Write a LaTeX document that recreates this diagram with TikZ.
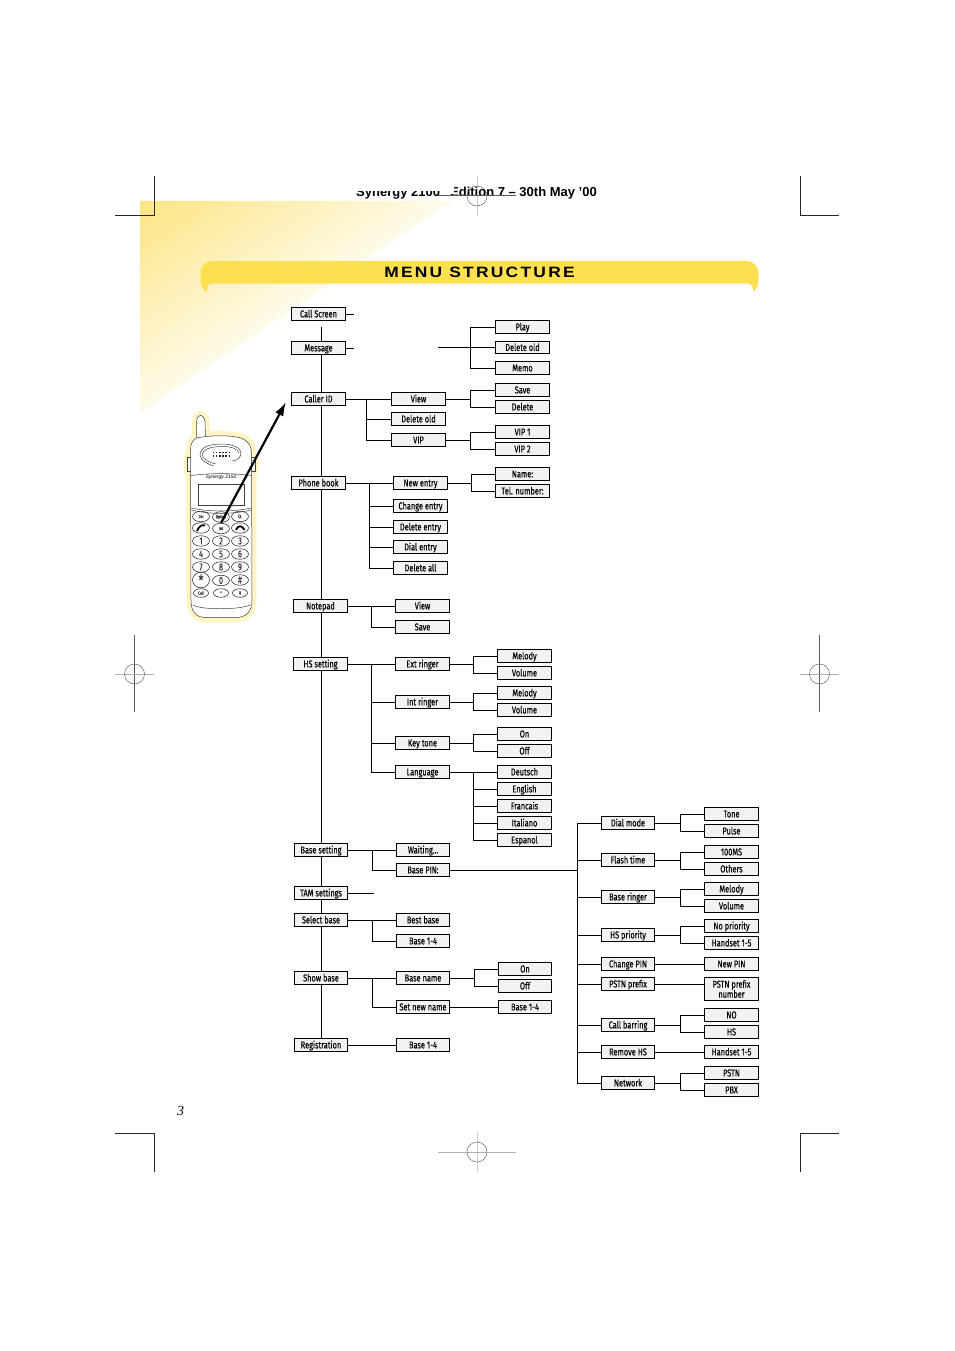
\documentclass[tikz,border=0pt]{standalone}
\usepackage{fontspec}
\usetikzlibrary{arrows.meta}
\usetikzlibrary{shapes.geometric}
\newfontfamily\menufont[FakeStretch=0.74,FakeBold=0.25]{Fira Sans}
\newfontfamily\headfont{Liberation Sans}
\newfontfamily\pagefont{Liberation Serif}
\newfontfamily\bannerfont[LetterSpace=15,FakeStretch=1.16]{Liberation Sans}
\definecolor{bannerfill}{HTML}{FDE04F}
\definecolor{wedgefill}{HTML}{FCE688}
\definecolor{halofill}{HTML}{FFF4C4}
\definecolor{boxfill}{HTML}{F2F2F2}
\pgfdeclarehorizontalshading{wedgeshade}{100bp}{color(0bp)=(wedgefill); color(17bp)=(wedgefill); color(57bp)=(white); color(100bp)=(white)}
\tikzset{
    menubox/.style={rectangle, draw, fill=boxfill, line width=.9pt, minimum width=53.5pt,
    	minimum height=12.8pt, inner sep=0pt, text height=8pt, text depth=1.2pt,
    	font=\menufont\fontsize{10}{10}\selectfont, align=center}
}
\tikzset{
    link/.style={line width=.9pt}
}
\tikzset{
	cropmark/.style={line width=.9pt, black!85},
	targetline/.style={line width=.9pt, black!30},
	phoneline/.style={line width=.5pt, black!75},
	phonekey/.style={ellipse, draw, line width=.6pt, black!80, minimum width=17pt, minimum height=10.5pt, inner sep=0pt, font=\menufont\fontsize{10}{10}\selectfont},
	phonesmall/.style={font=\menufont\fontsize{4.5}{4.5}\selectfont}
}
\pgfdeclarelayer{background}
\pgfsetlayers{background,main}

\begin{document}
\begin{tikzpicture}[x=1pt, y=-1pt]
	\useasboundingbox (0, 0) rectangle (954, 1351);

	% yellow wedge and banner
	\shade[shading=wedgeshade, shading angle=-55.7] (140, 201) -- (452, 201) -- (140, 413) -- cycle;
	\fill[bannerfill] (213, 261) -- (746, 261) .. controls (754, 261) and (758.5, 266) .. (758.5, 274)
		-- (758.5, 280) .. controls (758.5, 285) and (756, 289) .. (753.5, 292)
		.. controls (753, 287) and (752, 283.5) .. (747, 283.5) -- (212, 283.5)
		.. controls (208, 283.5) and (207, 287) .. (206.5, 292)
		.. controls (203, 289) and (200.5, 285) .. (200.5, 280) -- (200.5, 274)
		.. controls (200.5, 266) and (205, 261) .. (213, 261) -- cycle;
	\node (bannertext) [font=\bannerfont\bfseries\fontsize{15}{15}\selectfont, inner sep=0pt] at (479.5, 272) {MENU STRUCTURE};

	% page head
	\begin{scope}
		\clip (350, 191.5) rectangle (440, 205);
		\node (headleft) [anchor=base west, inner sep=0pt, font=\headfont\bfseries\fontsize{13}{13}\selectfont] at (356, 196.5) {Synergy 2100};
	\end{scope}
	\node (headright) [anchor=base east, inner sep=0pt, font=\headfont\bfseries\fontsize{13}{13}\selectfont] at (597, 196.5) {Edition 7 – 30th May ’00};
	\fill[white] (448, 185) rectangle (453.5, 194.5);
	\node (pagenum) [font=\pagefont\itshape\fontsize{14}{14}\selectfont, inner sep=0pt] at (180.5, 1111) {3};

	% crop marks
	\draw[cropmark] (154.5, 176) -- (154.5, 215.5) -- (115, 215.5);
	\draw[cropmark] (800.5, 176) -- (800.5, 215.5) -- (839, 215.5);
	\draw[cropmark] (115, 1133) -- (154.5, 1133) -- (154.5, 1172);
	\draw[cropmark] (839, 1133) -- (800.5, 1133) -- (800.5, 1172);

	% targets
	\draw[targetline, black!20] (477, 176) -- (477, 216);
	\draw[line width=.6pt, black!65] (438, 195.5) -- (516, 195.5);
	\draw[line width=.4pt, black!70] (477, 196) circle (10);
	\draw[targetline, black!20] (477, 1133) -- (477, 1172);
	\draw[targetline] (438, 1152) -- (516, 1152);
	\draw[line width=.4pt, black!70] (477, 1152) circle (10);
	\draw[targetline, black!65] (134.5, 635) -- (134.5, 712);
	\draw[targetline] (115, 674) -- (154, 674);
	\draw[line width=.4pt, black!70] (134.5, 674) circle (10);
	\draw[targetline, black!65] (819.5, 635) -- (819.5, 712);
	\draw[targetline] (800, 674) -- (839, 674);
	\draw[line width=.4pt, black!70] (819.5, 674) circle (10);

	% handset
	\draw[halofill, line width=9pt, line join=round, fill=halofill] (196.5, 437) -- (196.5, 422) .. controls (197, 413) and (204, 413) .. (205, 422) -- (205.5, 437)
		-- (218, 435) -- (240, 437) .. controls (248, 440) and (252, 444) .. (252, 455)
		-- (254, 457) -- (254, 471) -- (252, 471) -- (252, 600) .. controls (252, 612) and (246, 618) .. (236, 618)
		-- (206, 618) .. controls (196, 618) and (191, 612) .. (191, 600) -- (190.5, 471)
		-- (188, 471) -- (188, 457) -- (190.5, 457) -- (190.5, 450) .. controls (190.5, 443) and (193, 439) .. (196.5, 437) -- cycle;
	\draw[phoneline, fill=white] (196.5, 438) -- (196.5, 422) .. controls (197, 413) and (204, 413) .. (205, 422) -- (205.5, 438) -- cycle;
	\draw[phoneline, fill=white] (187.5, 457) rectangle (191, 471);
	\draw[phoneline, fill=white] (251.5, 457) rectangle (255, 471);
	\draw[phoneline, fill=white] (196.5, 438) .. controls (212, 435) and (230, 435) .. (241, 438)
		.. controls (248, 441) and (251.5, 445) .. (251.5, 455) -- (252, 600) .. controls (252, 612) and (246, 617.5) .. (236, 617.5)
		-- (206, 617.5) .. controls (196, 617.5) and (191, 612) .. (191, 600) -- (190.5, 450)
		.. controls (190.5, 443) and (193, 440) .. (196.5, 438) -- cycle;
	\draw[phoneline] (200, 455) .. controls (200, 447) and (210, 444) .. (222, 444) .. controls (233, 444) and (241, 448) .. (241, 453) .. controls (241, 458) and (236, 461) .. (232, 461);
	\draw[phoneline] (202, 455) .. controls (202, 449) and (212, 446.5) .. (222, 446.5) .. controls (232, 446.5) and (238, 449) .. (239, 453);
	\draw[phoneline] (200, 455) .. controls (200, 461) and (210, 465) .. (214, 466) (202, 455) .. controls (203, 460) and (211, 463) .. (216, 464);
	\draw[black!85, line width=1.3pt, dash pattern=on 1.3pt off 1.8pt] (213, 452.5) -- (229, 452.5) (213, 456) -- (229, 456);
	\draw[phoneline] (191, 475.5) .. controls (210, 473) and (232, 473) .. (251.5, 475.5);
	\node (phonename) [font=\headfont\itshape\fontsize{5}{5}\selectfont, inner sep=0pt] at (221, 477.5) {Synergy 2150};
	\draw[phoneline] (198, 484) rectangle (244, 505);
	\draw[phoneline] (191, 508) .. controls (210, 512) and (232, 512) .. (251.5, 508);
	\draw[phoneline] (191, 510) -- (191, 510) .. controls (210, 514.5) and (232, 514.5) .. (251.5, 510);
	\draw[phoneline] (193, 605) .. controls (200, 610) and (240, 610) .. (250, 605);

	\node (keydel) [phonekey, phonesmall] at (201, 516.5) {Del};
	\node (keyopt) [phonekey, phonesmall] at (221, 517) {Option};
	\node (keycl) [phonekey, phonesmall] at (240, 516.5) {CL};
	\node (keyoff) [phonekey] at (201, 528) {};
	\node (keyint) [phonekey, phonesmall] at (221, 528.5) {Int};
	\node (keyon) [phonekey] at (240, 528) {};
	\draw[black, line width=1.8pt] (197, 531) .. controls (199, 526) and (202, 524.5) .. (205, 525.5);
	\draw[black, line width=1.8pt] (236, 530) .. controls (238, 525) and (242, 525) .. (244.5, 530);
	\node (key1) [phonekey] at (201, 541) {1};
	\node (key2) [phonekey] at (221, 541) {2};
	\node (key3) [phonekey] at (240, 541) {3};
	\node (key4) [phonekey] at (201, 554) {4};
	\node (key5) [phonekey] at (221, 554) {5};
	\node (key6) [phonekey] at (240, 554) {6};
	\node (key7) [phonekey] at (201, 567) {7};
	\node (key8) [phonekey] at (221, 567) {8};
	\node (key9) [phonekey] at (240, 567) {9};
	\node (keystar) [phonekey] at (201, 580) {\fontsize{15}{15}\selectfont *};
	\node (key0) [phonekey] at (221, 580.5) {0};
	\node (keyhash) [phonekey] at (240, 580) {\#};
	\node (keycall) [phonekey, phonesmall, minimum width=15pt, minimum height=8.5pt] at (201, 593) {Call};
	\node (keymid) [phonekey, minimum width=15pt, minimum height=8.5pt, font=\menufont\fontsize{7}{7}\selectfont] at (221, 593) {\textbullet};
	\node (keyr) [phonekey, phonesmall, minimum width=15pt, minimum height=8.5pt] at (240, 593) {R};

	% main column
	\node (callscreen) [menubox] at (318.5, 314) {Call Screen};
	\node (message) [menubox] at (318.5, 348) {Message};
	\node (callerid) [menubox] at (318.5, 399) {Caller ID};
	\node (phonebook) [menubox] at (318.5, 483) {Phone book};
	\node (notepad) [menubox] at (320.5, 606) {Notepad};
	\node (hssetting) [menubox] at (320.5, 664) {HS setting};
	\node (basesetting) [menubox] at (321, 850) {Base setting};
	\node (tamsettings) [menubox] at (321, 893) {TAM settings};
	\node (selectbase) [menubox] at (321, 920) {Select base};
	\node (showbase) [menubox] at (321, 978) {Show base};
	\node (registration) [menubox] at (321, 1045) {Registration};

	% caller id and message
	\node (cidview) [menubox] at (418.5, 399) {View};
	\node (ciddelold) [menubox] at (418.5, 419) {Delete old};
	\node (cidvip) [menubox] at (418.5, 440) {VIP};
	\node (msgplay) [menubox] at (522.5, 327) {Play};
	\node (msgdelold) [menubox] at (522.5, 347.5) {Delete old};
	\node (msgmemo) [menubox] at (522.5, 368) {Memo};
	\node (viewsave) [menubox] at (522.5, 390) {Save};
	\node (viewdelete) [menubox] at (522.5, 407) {Delete};
	\node (vipone) [menubox] at (522.5, 432) {VIP 1};
	\node (viptwo) [menubox] at (522.5, 449) {VIP 2};

	% phone book
	\node (newentry) [menubox] at (420.5, 483) {New entry};
	\node (changeentry) [menubox] at (420.5, 506) {Change entry};
	\node (deleteentry) [menubox] at (420.5, 527) {Delete entry};
	\node (dialentry) [menubox] at (420.5, 547) {Dial entry};
	\node (deleteall) [menubox] at (420.5, 568) {Delete all};
	\node (entryname) [menubox] at (522.5, 474) {Name:};
	\node (entrytel) [menubox] at (522.5, 491) {Tel. number:};

	% notepad
	\node (noteview) [menubox] at (422.5, 606) {View};
	\node (notesave) [menubox] at (422.5, 627) {Save};

	% hs setting
	\node (extringer) [menubox] at (422.5, 664) {Ext ringer};
	\node (intringer) [menubox] at (422.5, 702) {Int ringer};
	\node (keytone) [menubox] at (422.5, 743) {Key tone};
	\node (language) [menubox] at (422.5, 772) {Language};
	\node (extmelody) [menubox] at (524.5, 656) {Melody};
	\node (extvolume) [menubox] at (524.5, 673) {Volume};
	\node (intmelody) [menubox] at (524.5, 693) {Melody};
	\node (intvolume) [menubox] at (524.5, 710) {Volume};
	\node (toneon) [menubox] at (524.5, 734) {On};
	\node (toneoff) [menubox] at (524.5, 751) {Off};
	\node (deutsch) [menubox] at (524.5, 772) {Deutsch};
	\node (english) [menubox] at (524.5, 789) {English};
	\node (francais) [menubox] at (524.5, 806) {Francais};
	\node (italiano) [menubox] at (524.5, 823) {Italiano};
	\node (espanol) [menubox] at (524.5, 840) {Espanol};

	% base side
	\node (waiting) [menubox] at (423, 850) {Waiting...};
	\node (basepin) [menubox] at (423, 870) {Base PIN:};
	\node (bestbase) [menubox] at (423, 920) {Best base};
	\node (selectone) [menubox] at (423, 941) {Base 1-4};
	\node (basename) [menubox] at (423, 978) {Base name};
	\node (setname) [menubox] at (423, 1007) {Set new name};
	\node (regone) [menubox] at (423, 1045) {Base 1-4};
	\node (nameon) [menubox] at (525, 969) {On};
	\node (nameoff) [menubox] at (525, 986) {Off};
	\node (setone) [menubox] at (525, 1007) {Base 1-4};

	% base pin menu
	\node (dialmode) [menubox] at (628, 823) {Dial mode};
	\node (flashtime) [menubox] at (628, 860) {Flash time};
	\node (baseringer) [menubox] at (628, 897) {Base ringer};
	\node (hspriority) [menubox] at (628, 935) {HS priority};
	\node (changepin) [menubox] at (628, 964) {Change PIN};
	\node (pstnprefix) [menubox] at (628, 984) {PSTN prefix};
	\node (callbarring) [menubox] at (628, 1025) {Call barring};
	\node (removehs) [menubox] at (628, 1052) {Remove HS};
	\node (network) [menubox] at (628, 1083) {Network};
	\node (tone) [menubox] at (731.5, 814) {Tone};
	\node (pulse) [menubox] at (731.5, 831) {Pulse};
	\node (hundredms) [menubox] at (731.5, 852) {100MS};
	\node (others) [menubox] at (731.5, 869) {Others};
	\node (basemelody) [menubox] at (731.5, 889) {Melody};
	\node (basevolume) [menubox] at (731.5, 906) {Volume};
	\node (nopriority) [menubox] at (731.5, 926) {No priority};
	\node (handsetprio) [menubox] at (731.5, 943) {Handset 1-5};
	\node (newpin) [menubox] at (731.5, 964) {New PIN};
	\node (prefixnumber) [menubox, minimum height=23.5pt, text height={}, text depth={}] at (731.5, 989) {PSTN prefix\\number};
	\node (barno) [menubox] at (731.5, 1015) {NO};
	\node (barhs) [menubox] at (731.5, 1032) {HS};
	\node (handsetrem) [menubox] at (731.5, 1052) {Handset 1-5};
	\node (pstn) [menubox] at (731.5, 1073) {PSTN};
	\node (pbx) [menubox] at (731.5, 1090) {PBX};

	% free ends
	\coordinate (trunktop) at (321.5, 327);
	\coordinate (trunkend) at (321.5, 1045);
	\coordinate (screenstub) at (354, 314);
	\coordinate (messagestub) at (354, 348);
	\coordinate (tamstub) at (374, 893);
	\coordinate (oldstub) at (438, 347.5);
	\coordinate (pintrunk) at (577.5, 870);
	\coordinate (arrowtail) at (221, 523);
	\coordinate (arrowtip) at (286, 402);

	\begin{pgfonlayer}{background}
	\begin{scope}[link]
		\draw (trunktop) -- (trunkend);
		\draw (callscreen) -- (screenstub); \draw (message) -- (messagestub);
		\draw (tamsettings) -- (tamstub);

		\draw (callerid) -- (cidview);
		\draw (callerid.east) -- ++(21, 0) |- (ciddelold.west);
		\draw (callerid.east) -- ++(21, 0) |- (cidvip.west);
		\draw (oldstub) -- (msgdelold);
		\draw (msgdelold.west) -- ++(-25, 0) |- (msgplay.west);
		\draw (msgdelold.west) -- ++(-25, 0) |- (msgmemo.west);
		\draw (cidview.east) -- ++(25, 0) |- (viewsave.west);
		\draw (cidview.east) -- ++(25, 0) |- (viewdelete.west);
		\draw (cidvip.east) -- ++(25, 0) |- (vipone.west);
		\draw (cidvip.east) -- ++(25, 0) |- (viptwo.west);

		\draw (phonebook) -- (newentry);
		\draw (phonebook.east) -- ++(24, 0) |- (changeentry.west);
		\draw (phonebook.east) -- ++(24, 0) |- (deleteentry.west);
		\draw (phonebook.east) -- ++(24, 0) |- (dialentry.west);
		\draw (phonebook.east) -- ++(24, 0) |- (deleteall.west);
		\draw (newentry.east) -- ++(24, 0) |- (entryname.west);
		\draw (newentry.east) -- ++(24, 0) |- (entrytel.west);

		\draw (notepad) -- (noteview);
		\draw (notepad.east) -- ++(24, 0) |- (notesave.west);

		\draw (hssetting) -- (extringer);
		\draw (hssetting.east) -- ++(24, 0) |- (intringer.west);
		\draw (hssetting.east) -- ++(24, 0) |- (keytone.west);
		\draw (hssetting.east) -- ++(24, 0) |- (language.west);
		\draw (extringer.east) -- ++(24, 0) |- (extmelody.west);
		\draw (extringer.east) -- ++(24, 0) |- (extvolume.west);
		\draw (intringer.east) -- ++(24, 0) |- (intmelody.west);
		\draw (intringer.east) -- ++(24, 0) |- (intvolume.west);
		\draw (keytone.east) -- ++(24, 0) |- (toneon.west);
		\draw (keytone.east) -- ++(24, 0) |- (toneoff.west);
		\draw (language) -- (deutsch);
		\draw (language.east) -- ++(24, 0) |- (english.west);
		\draw (language.east) -- ++(24, 0) |- (francais.west);
		\draw (language.east) -- ++(24, 0) |- (italiano.west);
		\draw (language.east) -- ++(24, 0) |- (espanol.west);

		\draw (basesetting) -- (waiting);
		\draw (basesetting.east) -- ++(24.5, 0) |- (basepin.west);
		\draw (basepin) -- (pintrunk);
		\draw (selectbase) -- (bestbase);
		\draw (selectbase.east) -- ++(24.5, 0) |- (selectone.west);
		\draw (showbase) -- (basename);
		\draw (showbase.east) -- ++(24.5, 0) |- (setname.west);
		\draw (basename.east) -- ++(24, 0) |- (nameon.west);
		\draw (basename.east) -- ++(24, 0) |- (nameoff.west);
		\draw (setname) -- (setone);
		\draw (registration) -- (regone);

		\draw (dialmode.west) -- ++(-23.5, 0) |- (network.west);
		\draw (flashtime.west) -- ++(-23.5, 0);
		\draw (baseringer.west) -- ++(-23.5, 0);
		\draw (hspriority.west) -- ++(-23.5, 0);
		\draw (changepin.west) -- ++(-23.5, 0);
		\draw (pstnprefix.west) -- ++(-23.5, 0);
		\draw (callbarring.west) -- ++(-23.5, 0);
		\draw (removehs.west) -- ++(-23.5, 0);

		\draw (dialmode.east) -- ++(25, 0) |- (tone.west);
		\draw (dialmode.east) -- ++(25, 0) |- (pulse.west);
		\draw (flashtime.east) -- ++(25, 0) |- (hundredms.west);
		\draw (flashtime.east) -- ++(25, 0) |- (others.west);
		\draw (baseringer.east) -- ++(25, 0) |- (basemelody.west);
		\draw (baseringer.east) -- ++(25, 0) |- (basevolume.west);
		\draw (hspriority.east) -- ++(25, 0) |- (nopriority.west);
		\draw (hspriority.east) -- ++(25, 0) |- (handsetprio.west);
		\draw (changepin) -- (newpin);
		\draw (pstnprefix.east) -- (pstnprefix.east -| prefixnumber.west);
		\draw (callbarring.east) -- ++(25, 0) |- (barno.west);
		\draw (callbarring.east) -- ++(25, 0) |- (barhs.west);
		\draw (removehs) -- (handsetrem);
		\draw (network.east) -- ++(25, 0) |- (pstn.west);
		\draw (network.east) -- ++(25, 0) |- (pbx.west);
	\end{scope}
	\end{pgfonlayer}

	\draw[line width=2.2pt, -{Latex[length=14pt, width=9pt]}] (arrowtail) -- (arrowtip);
\end{tikzpicture}
\end{document}
